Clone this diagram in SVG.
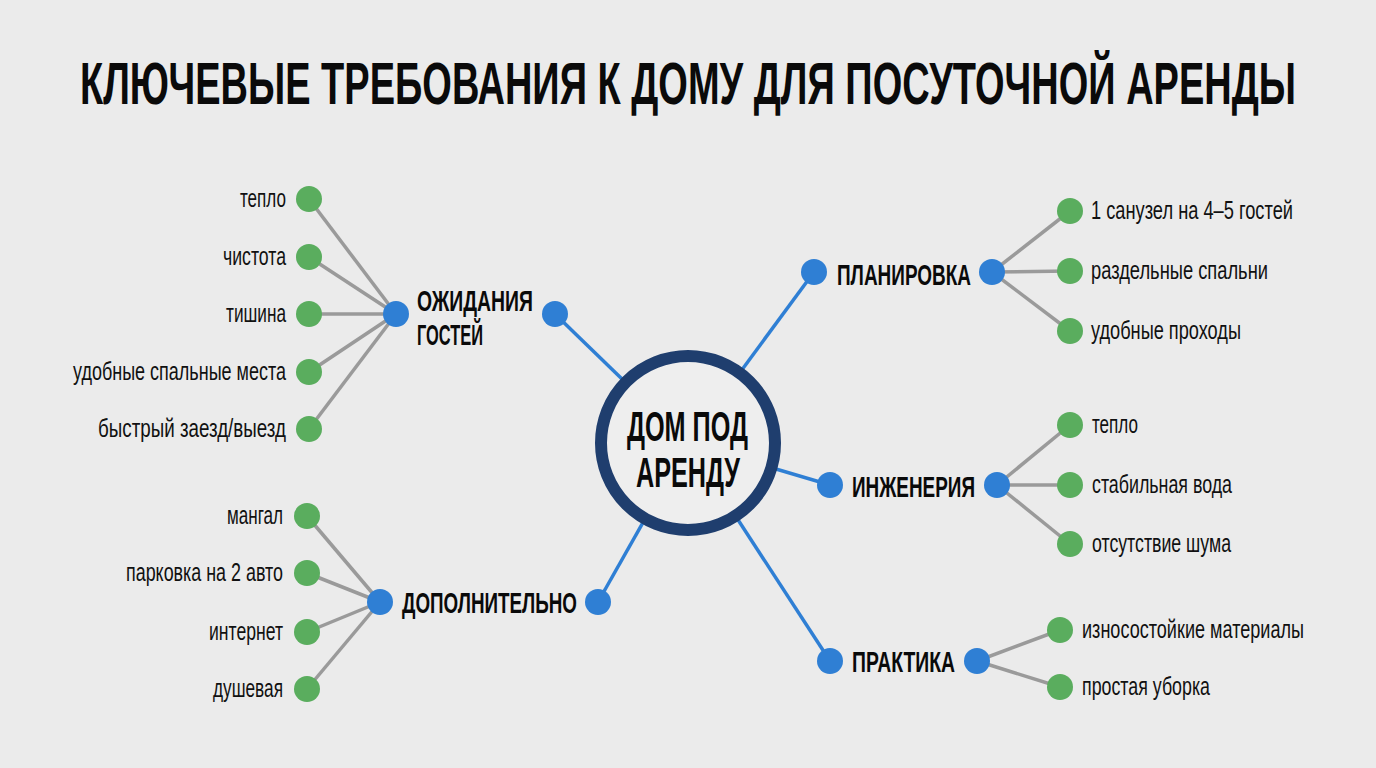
<svg xmlns="http://www.w3.org/2000/svg" width="1376" height="768" viewBox="0 0 1376 768">
<style>
.bg{fill:#ebebeb}
.title{font-family:"Liberation Sans Narrow","Liberation Sans",Arial,sans-serif;font-weight:bold;font-size:59px;fill:#0a0a0a}
.lbl{font-family:"Liberation Sans Narrow","Liberation Sans",Arial,sans-serif;font-weight:bold;font-size:30px;fill:#0a0a0a}
.ctr{font-family:"Liberation Sans Narrow","Liberation Sans",Arial,sans-serif;font-weight:bold;font-size:42px;fill:#0a0a0a}
.leaf{font-family:"Liberation Sans Narrow","Liberation Sans",Arial,sans-serif;font-size:25px;fill:#111}
.blue{fill:#2f7fd4}
.green{fill:#5aad5e}
.cb{stroke:#2f7fd4;stroke-width:3.5;fill:none}
.cg{stroke:#9a9a9a;stroke-width:3.5;fill:none}
</style>
<rect class="bg" x="0" y="0" width="1376" height="768"/>
<text class="title" x="80" y="104" textLength="1216" lengthAdjust="spacingAndGlyphs">КЛЮЧЕВЫЕ ТРЕБОВАНИЯ К ДОМУ ДЛЯ ПОСУТОЧНОЙ АРЕНДЫ</text>

<g id="connectors">
  <line class="cb" x1="555" y1="314" x2="688" y2="443"/>
  <line class="cb" x1="598" y1="602" x2="688" y2="443"/>
  <line class="cb" x1="814" y1="272" x2="688" y2="443"/>
  <line class="cb" x1="830" y1="485" x2="688" y2="443"/>
  <line class="cb" x1="830" y1="661" x2="688" y2="443"/>
  <line class="cg" x1="396" y1="314" x2="309" y2="199"/>
  <line class="cg" x1="396" y1="314" x2="309" y2="257"/>
  <line class="cg" x1="396" y1="314" x2="309" y2="314"/>
  <line class="cg" x1="396" y1="314" x2="309" y2="372"/>
  <line class="cg" x1="396" y1="314" x2="309" y2="429"/>
  <line class="cg" x1="380" y1="602" x2="307" y2="516"/>
  <line class="cg" x1="380" y1="602" x2="307" y2="573"/>
  <line class="cg" x1="380" y1="602" x2="307" y2="632"/>
  <line class="cg" x1="380" y1="602" x2="307" y2="689"/>
  <line class="cg" x1="992" y1="272" x2="1070" y2="211"/>
  <line class="cg" x1="992" y1="272" x2="1070" y2="271"/>
  <line class="cg" x1="992" y1="272" x2="1070" y2="331"/>
  <line class="cg" x1="997" y1="485" x2="1070" y2="425"/>
  <line class="cg" x1="997" y1="485" x2="1070" y2="485"/>
  <line class="cg" x1="997" y1="485" x2="1070" y2="544"/>
  <line class="cg" x1="977" y1="661" x2="1060" y2="630"/>
  <line class="cg" x1="977" y1="661" x2="1060" y2="687"/>
</g>

<g id="center">
  <circle cx="688" cy="443" r="87" fill="#eeeeee" stroke="#1f3e6e" stroke-width="12"/>
  <text class="ctr"><tspan x="627" y="441" textLength="121" lengthAdjust="spacingAndGlyphs">ДОМ ПОД</tspan><tspan x="636" y="487" textLength="104" lengthAdjust="spacingAndGlyphs">АРЕНДУ</tspan></text>
</g>

<g id="guests">
  <circle class="blue" cx="396" cy="314" r="13"/>
  <circle class="blue" cx="555" cy="314" r="13"/>
  <text class="lbl"><tspan x="417" y="311" textLength="116" lengthAdjust="spacingAndGlyphs">ОЖИДАНИЯ</tspan><tspan x="417" y="345" textLength="66" lengthAdjust="spacingAndGlyphs">ГОСТЕЙ</tspan></text>
</g>
<g id="g-teplo"><circle class="green" cx="309" cy="199" r="13"/><text class="leaf" x="286" y="207" text-anchor="end" textLength="46" lengthAdjust="spacingAndGlyphs">тепло</text></g>
<g id="g-chistota"><circle class="green" cx="309" cy="257" r="13"/><text class="leaf" x="286" y="265" text-anchor="end" textLength="63" lengthAdjust="spacingAndGlyphs">чистота</text></g>
<g id="g-tishina"><circle class="green" cx="309" cy="314" r="13"/><text class="leaf" x="286" y="322" text-anchor="end" textLength="60" lengthAdjust="spacingAndGlyphs">тишина</text></g>
<g id="g-mesta"><circle class="green" cx="309" cy="372" r="13"/><text class="leaf" x="286" y="380" text-anchor="end" textLength="213" lengthAdjust="spacingAndGlyphs">удобные спальные места</text></g>
<g id="g-zaezd"><circle class="green" cx="309" cy="429" r="13"/><text class="leaf" x="286" y="437" text-anchor="end" textLength="188" lengthAdjust="spacingAndGlyphs">быстрый заезд/выезд</text></g>

<g id="extra">
  <circle class="blue" cx="380" cy="602" r="13"/>
  <circle class="blue" cx="598" cy="602" r="13"/>
  <text class="lbl" x="402" y="613" textLength="175" lengthAdjust="spacingAndGlyphs">ДОПОЛНИТЕЛЬНО</text>
</g>
<g id="e-mangal"><circle class="green" cx="307" cy="516" r="13"/><text class="leaf" x="283" y="524" text-anchor="end" textLength="56" lengthAdjust="spacingAndGlyphs">мангал</text></g>
<g id="e-parking"><circle class="green" cx="307" cy="573" r="13"/><text class="leaf" x="283" y="581" text-anchor="end" textLength="157" lengthAdjust="spacingAndGlyphs">парковка на 2 авто</text></g>
<g id="e-internet"><circle class="green" cx="307" cy="632" r="13"/><text class="leaf" x="283" y="640" text-anchor="end" textLength="74" lengthAdjust="spacingAndGlyphs">интернет</text></g>
<g id="e-dush"><circle class="green" cx="307" cy="689" r="13"/><text class="leaf" x="283" y="697" text-anchor="end" textLength="70" lengthAdjust="spacingAndGlyphs">душевая</text></g>

<g id="layout">
  <circle class="blue" cx="814" cy="272" r="13"/>
  <circle class="blue" cx="992" cy="272" r="13"/>
  <text class="lbl" x="837" y="285" textLength="134" lengthAdjust="spacingAndGlyphs">ПЛАНИРОВКА</text>
</g>
<g id="l-sanuzel"><circle class="green" cx="1070" cy="211" r="13"/><text class="leaf" x="1091" y="219" textLength="202" lengthAdjust="spacingAndGlyphs">1 санузел на 4–5 гостей</text></g>
<g id="l-spalni"><circle class="green" cx="1070" cy="271" r="13"/><text class="leaf" x="1091" y="279" textLength="177" lengthAdjust="spacingAndGlyphs">раздельные спальни</text></g>
<g id="l-prohody"><circle class="green" cx="1070" cy="331" r="13"/><text class="leaf" x="1091" y="339" textLength="150" lengthAdjust="spacingAndGlyphs">удобные проходы</text></g>

<g id="engineering">
  <circle class="blue" cx="830" cy="485" r="13"/>
  <circle class="blue" cx="997" cy="485" r="13"/>
  <text class="lbl" x="852" y="497" textLength="123" lengthAdjust="spacingAndGlyphs">ИНЖЕНЕРИЯ</text>
</g>
<g id="i-teplo"><circle class="green" cx="1070" cy="425" r="13"/><text class="leaf" x="1092" y="433" textLength="46" lengthAdjust="spacingAndGlyphs">тепло</text></g>
<g id="i-voda"><circle class="green" cx="1070" cy="485" r="13"/><text class="leaf" x="1092" y="493" textLength="140" lengthAdjust="spacingAndGlyphs">стабильная вода</text></g>
<g id="i-shum"><circle class="green" cx="1070" cy="544" r="13"/><text class="leaf" x="1092" y="552" textLength="139" lengthAdjust="spacingAndGlyphs">отсутствие шума</text></g>

<g id="practice">
  <circle class="blue" cx="830" cy="661" r="13"/>
  <circle class="blue" cx="977" cy="661" r="13"/>
  <text class="lbl" x="852" y="672" textLength="103" lengthAdjust="spacingAndGlyphs">ПРАКТИКА</text>
</g>
<g id="p-materialy"><circle class="green" cx="1060" cy="630" r="13"/><text class="leaf" x="1082" y="638" textLength="222" lengthAdjust="spacingAndGlyphs">износостойкие материалы</text></g>
<g id="p-uborka"><circle class="green" cx="1060" cy="687" r="13"/><text class="leaf" x="1082" y="695" textLength="128" lengthAdjust="spacingAndGlyphs">простая уборка</text></g>
</svg>
